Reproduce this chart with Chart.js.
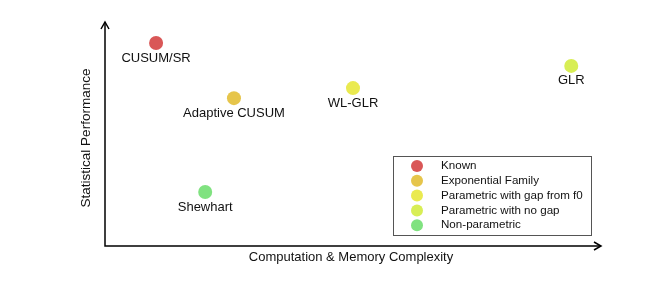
<!DOCTYPE html>
<html>
<head>
<meta charset="utf-8">
<script src="https://cdn.jsdelivr.net/npm/chart.js@4"></script>
<style>
  html, body { margin: 0; padding: 0; background: #fff; }
  #wrap { width: 664px; height: 287px; }
</style>
</head>
<body>
<div id="wrap"><canvas id="c"></canvas></div>
<script>
// detectors and their position (complexity, performance)
const methods = ['CUSUM/SR', 'Adaptive CUSUM', 'WL-GLR', 'GLR', 'Shewhart'];
const complexity = [1.03, 2.6, 5.0, 9.4, 2.02];
const performance = [9.06, 6.6, 7.05, 8.04, 2.41];

// legend categories
const families = ['Known', 'Exponential Family', 'Parametric with gap from f0', 'Parametric with no gap', 'Non-parametric'];
const familyColors = ['#d95757', '#e6c54b', '#eaea50', '#d8ee55', '#80e280'];

const FONT = '"Liberation Sans", Arial, Helvetica, sans-serif';

// axes with arrow heads, point labels, axis titles, legend box
const decorations = {
    id: 'decorations',
    afterDatasetsDraw(chart) {
        const ctx = chart.ctx;
        const a = chart.chartArea;
        ctx.save();

        // axes
        ctx.strokeStyle = '#000';
        ctx.lineWidth = 1.5;
        ctx.beginPath();
        ctx.moveTo(a.left, a.top);
        ctx.lineTo(a.left, a.bottom);
        ctx.lineTo(a.right, a.bottom);
        ctx.stroke();
        ctx.beginPath();
        ctx.moveTo(a.left - 4, a.top + 7);
        ctx.lineTo(a.left, a.top);
        ctx.lineTo(a.left + 4, a.top + 7);
        ctx.moveTo(a.right - 7, a.bottom - 4);
        ctx.lineTo(a.right, a.bottom);
        ctx.lineTo(a.right - 7, a.bottom + 4);
        ctx.stroke();

        // point labels
        ctx.fillStyle = '#111';
        ctx.font = '13px ' + FONT;
        ctx.textAlign = 'center';
        ctx.textBaseline = 'middle';
        chart.data.datasets.forEach((ds, i) => {
            const el = chart.getDatasetMeta(i).data[0];
            ctx.fillText(methods[i], el.x, el.y + 15);
        });

        // axis titles
        ctx.font = '13px ' + FONT;
        ctx.fillText('Computation & Memory Complexity', (a.left + a.right) / 2 - 2, a.bottom + 11);
        ctx.save();
        ctx.font = '13.5px ' + FONT;
        ctx.translate(a.left - 19, (a.top + a.bottom) / 2 + 4);
        ctx.rotate(-Math.PI / 2);
        ctx.fillText('Statistical Performance', 0, 0);
        ctx.restore();

        // legend
        const lx = 393.5, ly = 156.5, lw = 198, lh = 79;
        ctx.strokeStyle = '#555';
        ctx.lineWidth = 1;
        ctx.strokeRect(lx, ly, lw, lh);
        ctx.font = '11.6px ' + FONT;
        ctx.textAlign = 'left';
        families.forEach((f, i) => {
            const y = 166 + i * 14.8;
            ctx.fillStyle = familyColors[i];
            ctx.beginPath();
            ctx.arc(417, y, 6, 0, Math.PI * 2);
            ctx.fill();
            ctx.fillStyle = '#111';
            ctx.fillText(f, 441, y);
        });

        ctx.restore();
    }
};

new Chart(document.getElementById('c'), {
    type: 'scatter',
    data: {
        datasets: methods.map((m, i) => ({
            label: families[i],
            data: [{ x: complexity[i], y: performance[i] }],
            backgroundColor: familyColors[i],
            borderColor: familyColors[i],
            borderWidth: 0,
            pointRadius: 7,
            pointHoverRadius: 7
        }))
    },
    options: {
        responsive: true,
        maintainAspectRatio: false,
        animation: false,
        layout: { padding: { left: 105, right: 63, top: 22, bottom: 41 } },
        plugins: {
            legend: { display: false },
            tooltip: { enabled: false }
        },
        scales: {
            x: { type: 'linear', min: 0, max: 10, display: false },
            y: { type: 'linear', min: 0, max: 10, display: false }
        }
    },
    plugins: [decorations]
});
</script>
</body>
</html>
